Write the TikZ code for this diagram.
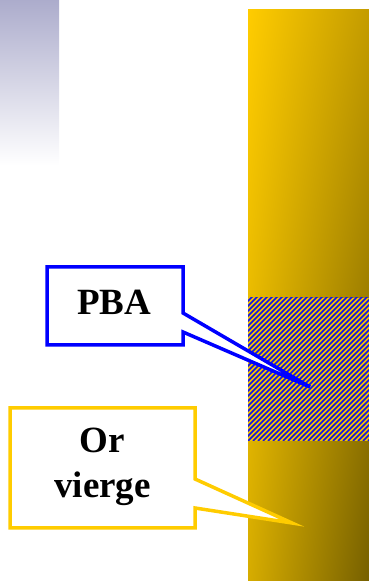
\documentclass[tikz,border=0pt]{standalone}
\usepackage{fontspec}
\setmainfont{Liberation Serif}
\usetikzlibrary{shadings}
\definecolor{lav}{RGB}{172,172,204}
\definecolor{goldA}{RGB}{255,204,0}
\definecolor{goldB}{RGB}{196,156,0}
\definecolor{goldC}{RGB}{214,172,0}
\definecolor{goldD}{RGB}{118,96,0}
\definecolor{hatchY}{RGB}{244,196,0}
\definecolor{hatchB}{RGB}{20,20,230}
\definecolor{calloutY}{RGB}{255,204,0}
\tikzset{
  calloutblue/.style={draw=blue,line width=3.5pt,fill=white,line join=miter,miter limit=10},
  calloutgold/.style={draw=calloutY,line width=3.5pt,fill=white,line join=miter,miter limit=10},
  label/.style={font=\fontsize{37}{45}\selectfont\bfseries,align=center,inner sep=0pt}
}
\begin{document}
\begin{tikzpicture}[x=1pt,y=1pt]
\useasboundingbox (0,0) rectangle (369,581);
% top-left gradient block
\shade[top color=lav,bottom color=white] (0,416) rectangle (59,581);
% gold bar
\shade[upper left=goldA,upper right=goldB,lower left=goldC,lower right=goldD] (248,0) rectangle (369,571);
% hatched region
\fill[hatchY] (248,140) rectangle (369,283);
\begin{scope}
\clip (248,140) rectangle (369,283);
\foreach \i in {0,...,60}{
  \draw[hatchB,line width=1.7pt] (248+\i*5-150,140) -- (248+\i*5,290);
}
\end{scope}
% PBA callout
\draw[calloutblue] (47,314) -- (183,314) -- (183,268) -- (310,194) -- (183,249) -- (183,236) -- (47,236) -- cycle;
\node[label] (pba) at (114,279) {PBA};
% Or vierge callout
\draw[calloutgold] (10,173) -- (195,173) -- (195,102) -- (292,58) -- (195,73) -- (195,53) -- (10,53) -- cycle;
\node[label] (or) at (102.5,114) {Or\\vierge};
\end{tikzpicture}
\end{document}
